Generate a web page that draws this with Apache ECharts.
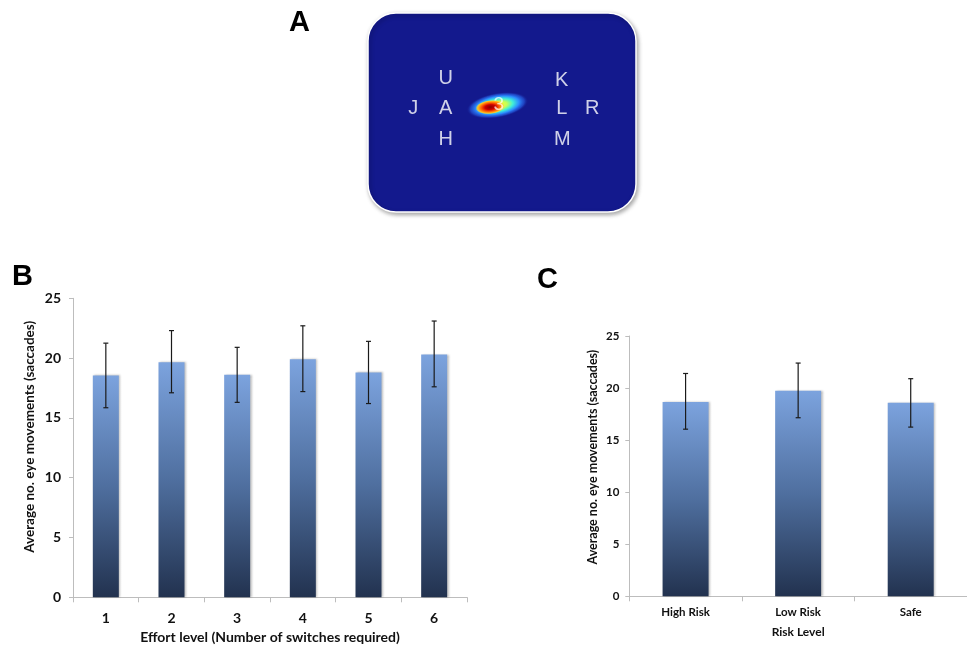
<!DOCTYPE html>
<html><head><meta charset="utf-8">
<script src="https://cdn.jsdelivr.net/npm/echarts/dist/echarts.min.js"></script>
<style>html,body{margin:0;padding:0;background:#fff}#c{width:967px;height:648px}</style>
</head><body><div id="c"></div>
<script>
// ---- Data ----
const effortLevels = ['1', '2', '3', '4', '5', '6'];
const effortMeans  = [18.55, 19.65, 18.6, 19.9, 18.8, 20.3];
const effortUpper  = [21.25, 22.3, 20.9, 22.7, 21.4, 23.1];
const effortLower  = [15.85, 17.1, 16.3, 17.2, 16.2, 17.6];

const riskLevels = ['High Risk', 'Low Risk', 'Safe'];
const riskMeans  = [18.65, 19.75, 18.6];
const riskUpper  = [21.4, 22.4, 20.9];
const riskLower  = [16.05, 17.15, 16.25];

const yTickValues = [0, 5, 10, 15, 20, 25];

// Panel A: gaze-target letters (screen position in % of display)
const gazeLetters = ['U', 'J', 'A', 'H', 'K', 'L', 'R', 'M'];
const gazeX = [29.0, 16.9, 29.0, 29.0, 72.3, 72.3, 83.7, 72.5];
const gazeY = [33.1, 47.9, 47.9, 63.8, 33.7, 47.9, 47.9, 63.8];
const fixationHalo = [48.3, 46.4];
const fixationCore = [45.6, 47.3];
const fixationTarget = ['3', 48.8, 46.0];

// ---- Chart ----
const chart = echarts.init(document.getElementById('c'));
const FONT = 'Lato';
const axisGrey = '#bdbdbd';

const barFill = new echarts.graphic.LinearGradient(0, 0, 0, 1, [
  { offset: 0, color: '#7ca3de' },
  { offset: 0.5, color: '#4f6f9f' },
  { offset: 1, color: '#22324f' }
]);

function errorRender(capHalf) {
  return function (params, api) {
    const i = api.value(0);
    const hi = api.coord([i, api.value(1)]);
    const lo = api.coord([i, api.value(2)]);
    const st = { stroke: '#1a1a1a', lineWidth: 1.2 };
    return {
      type: 'group',
      children: [
        { type: 'line', shape: { x1: hi[0], y1: hi[1], x2: lo[0], y2: lo[1] }, style: st },
        { type: 'line', shape: { x1: hi[0] - capHalf, y1: hi[1], x2: hi[0] + capHalf, y2: hi[1] }, style: st },
        { type: 'line', shape: { x1: lo[0] - capHalf, y1: lo[1], x2: lo[0] + capHalf, y2: lo[1] }, style: st }
      ]
    };
  };
}

function valueAxis(gridIndex, fontSize, nameSize, padShift, nameGap, margin) {
  return {
    type: 'value', gridIndex: gridIndex,
    min: yTickValues[0], max: yTickValues[yTickValues.length - 1], interval: 5,
    name: 'Average no. eye movements (saccades)',
    nameLocation: 'middle', nameRotate: 90,
    nameGap: nameGap,
    nameTextStyle: { fontFamily: FONT, fontWeight: 'bold', fontSize: nameSize, color: '#111', padding: [0, 0, 0, padShift] },
    axisLine: { show: true, lineStyle: { color: axisGrey, width: 1 } },
    axisTick: { show: true, length: 4, lineStyle: { color: axisGrey } },
    splitLine: { show: false },
    axisLabel: { fontFamily: FONT, fontWeight: 'bold', fontSize: fontSize, color: '#111', margin: margin }
  };
}

function catAxis(gridIndex, cats, name, labelSize, nameSize, labelMargin, nameGap) {
  return {
    type: 'category', gridIndex: gridIndex, data: cats,
    name: name, nameLocation: 'middle', nameGap: nameGap,
    nameTextStyle: { fontFamily: FONT, fontWeight: 'bold', fontSize: nameSize, color: '#111' },
    axisLine: { show: true, lineStyle: { color: axisGrey, width: 1 } },
    axisTick: { show: true, length: 5, alignWithLabel: false, lineStyle: { color: axisGrey } },
    axisLabel: { fontFamily: FONT, fontWeight: 'bold', fontSize: labelSize, color: '#111', margin: labelMargin }
  };
}

const option = {
  backgroundColor: '#ffffff',
  animation: false,
  graphic: [
    { type: 'text', left: 289, top: 8, style: { text: 'A', font: 'bold 29px "Liberation Sans"', fill: '#000' } },
    { type: 'text', left: 12, top: 262, style: { text: 'B', font: 'bold 29px "Liberation Sans"', fill: '#000' } },
    { type: 'text', left: 537, top: 265, style: { text: 'C', font: 'bold 29px "Liberation Sans"', fill: '#000' } },
    {
      type: 'rect', z: -1,
      shape: { x: 368, y: 13, width: 268, height: 199, r: 28 },
      style: { fill: '#13198d', stroke: '#ffffff', lineWidth: 1.5, shadowBlur: 4, shadowOffsetX: 1.5, shadowOffsetY: 2, shadowColor: 'rgba(0,0,0,0.35)' }
    }
  ],
  grid: [
    { left: 368, top: 13, width: 268, height: 199 },
    { left: 73, top: 298.3, width: 394, height: 299 },
    { left: 629.3, top: 336, width: 344, height: 260.3 }
  ],
  xAxis: [
    { type: 'value', gridIndex: 0, min: 0, max: 100, show: false },
    catAxis(1, effortLevels, 'Effort level (Number of switches required)', 14, 14, 14, 33),
    catAxis(2, riskLevels, 'Risk Level', 11.5, 12, 10, 30)
  ],
  yAxis: [
    { type: 'value', gridIndex: 0, min: 0, max: 100, inverse: true, show: false },
    valueAxis(1, 14, 13.5, 22, 36, 12),
    valueAxis(2, 11.5, 12.5, 18, 30, 10)
  ],
  series: [
    {
      type: 'custom', xAxisIndex: 0, yAxisIndex: 0, z: 2,
      data: [[fixationHalo[0], fixationHalo[1], fixationCore[0], fixationCore[1]]],
      renderItem: function (params, api) {
        const h = api.coord([api.value(0), api.value(1)]);
        const c = api.coord([api.value(2), api.value(3)]);
        return {
          type: 'group',
          children: [
            { type: 'circle', x: h[0], y: h[1], rotation: 0.17, scaleX: 2.5, scaleY: 1, shape: { cx: 0, cy: 0, r: 12.5 },
              style: { fill: { type: 'radial', x: 0.5, y: 0.5, r: 0.5, colorStops: [
                { offset: 0, color: '#f8ff40' }, { offset: 0.3, color: '#c8ff50' }, { offset: 0.5, color: '#40f0d8' },
                { offset: 0.7, color: '#2a8cff' }, { offset: 0.87, color: 'rgba(40,100,235,0.55)' }, { offset: 1, color: 'rgba(20,26,142,0)' } ] } } },
            { type: 'circle', x: c[0], y: c[1], rotation: 0.1, scaleX: 2.1, scaleY: 1, shape: { cx: 0, cy: 0, r: 7 },
              style: { fill: { type: 'radial', x: 0.5, y: 0.5, r: 0.5, colorStops: [
                { offset: 0, color: '#8a0000' }, { offset: 0.35, color: '#cc0000' }, { offset: 0.6, color: '#ff5a00' },
                { offset: 0.85, color: '#ffc020' }, { offset: 1, color: 'rgba(255,230,50,0)' } ] } } }
          ]
        };
      }
    },
    {
      type: 'scatter', xAxisIndex: 0, yAxisIndex: 0, z: 3, symbolSize: 1,
      itemStyle: { color: 'rgba(0,0,0,0)' },
      data: gazeLetters.map((t, i) => ({ name: t, value: [gazeX[i], gazeY[i]] })),
      label: { show: true, position: 'inside', formatter: '{b}', color: '#ffffff', fontSize: 20, fontFamily: 'Liberation Sans' }
    },
    {
      type: 'scatter', xAxisIndex: 0, yAxisIndex: 0, z: 4, symbolSize: 1,
      itemStyle: { color: 'rgba(0,0,0,0)' },
      data: [{ name: fixationTarget[0], value: [fixationTarget[1], fixationTarget[2]] }],
      label: { show: true, position: 'inside', formatter: '{b}', color: 'rgba(255,255,255,0.9)', fontSize: 19, fontFamily: 'Liberation Sans' }
    },
    {
      type: 'bar', xAxisIndex: 1, yAxisIndex: 1, barWidth: 26, data: effortMeans,
      itemStyle: { color: barFill, shadowColor: 'rgba(0,0,0,0.25)', shadowBlur: 2, shadowOffsetX: 1.5 }
    },
    {
      type: 'custom', xAxisIndex: 1, yAxisIndex: 1, z: 5,
      data: effortMeans.map((m, i) => [i, effortUpper[i], effortLower[i]]),
      encode: { x: 0, y: [1, 2] },
      renderItem: errorRender(2.5)
    },
    {
      type: 'bar', xAxisIndex: 2, yAxisIndex: 2, barWidth: 46, data: riskMeans,
      itemStyle: { color: barFill, shadowColor: 'rgba(0,0,0,0.25)', shadowBlur: 2, shadowOffsetX: 1.5 }
    },
    {
      type: 'custom', xAxisIndex: 2, yAxisIndex: 2, z: 5,
      data: riskMeans.map((m, i) => [i, riskUpper[i], riskLower[i]]),
      encode: { x: 0, y: [1, 2] },
      renderItem: errorRender(2.5)
    }
  ]
};
chart.setOption(option);
</script>
</body></html>
